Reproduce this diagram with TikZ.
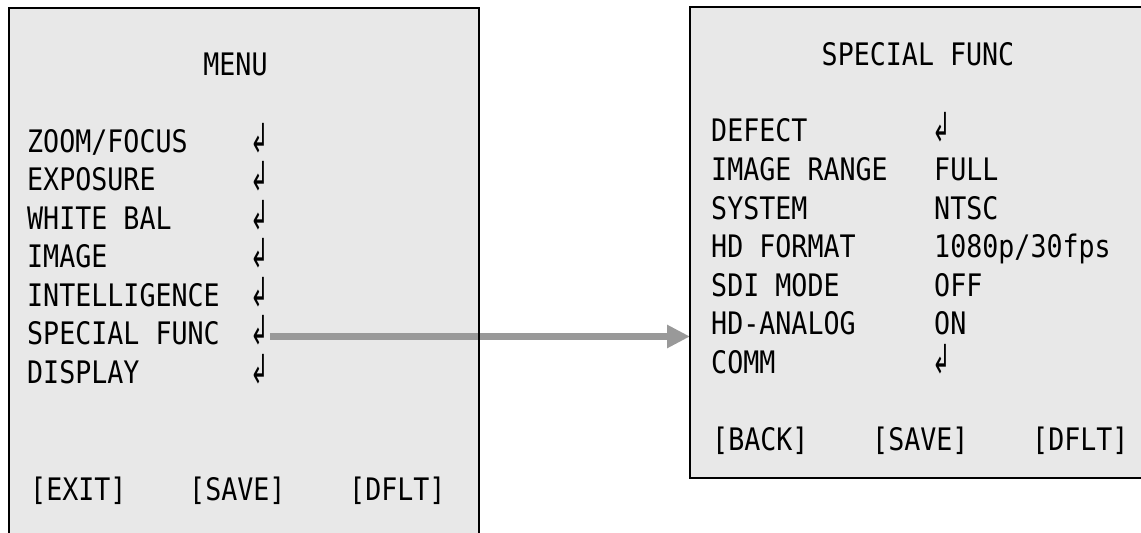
\documentclass[tikz,border=0pt]{standalone}
\usepackage{fontspec}
\setmonofont[FakeStretch=0.86]{DejaVu Sans Mono}
\newfontfamily\symfont[FakeStretch=0.55]{DejaVu Sans}
\usetikzlibrary{arrows.meta}
\definecolor{osdbg}{HTML}{E8E8E8}
\definecolor{osdgray}{HTML}{999999}

\begin{document}
\begin{tikzpicture}[x=1pt, y=-1pt,
    osdtext/.style={anchor=base west, inner sep=0pt, font=\ttfamily\fontsize{31}{31}\selectfont},
    osdtitle/.style={anchor=base, inner sep=0pt, font=\ttfamily\fontsize{31}{31}\selectfont},
    retkey/.style={anchor=base west, inner sep=0pt, font=\symfont\fontsize{40}{40}\selectfont}]
        \useasboundingbox (0,0) rectangle (1141,533);
        \clip (0,0) rectangle (1141,533);

        % Sfondi
        \fill[osdbg] (9,8) rectangle (479,545);
        \fill[osdbg] (690,7) rectangle (1150,478);
        \coordinate (funcedge) at (690,7);

        % Menu principale
        \node[osdtitle] (menutitle) at (235.5,75) {MENU};
        \node[osdtext] (zoom) at (27,152) {ZOOM/FOCUS};
        \node[osdtext] (expo) at (27,190.5) {EXPOSURE};
        \node[osdtext] (white) at (27,229) {WHITE BAL};
        \node[osdtext] (image) at (27,267.5) {IMAGE};
        \node[osdtext] (intel) at (27,306) {INTELLIGENCE};
        \node[osdtext] (special) at (27,344.5) {SPECIAL FUNC};
        \node[osdtext] (display) at (27,383) {DISPLAY};
        \node[retkey] (ret1) at (250,152) {↲};
        \node[retkey] (ret2) at (250,190.5) {↲};
        \node[retkey] (ret3) at (250,229) {↲};
        \node[retkey] (ret4) at (250,267.5) {↲};
        \node[retkey] (ret5) at (250,306) {↲};
        \node[retkey] (ret6) at (250,344.5) {↲};
        \node[retkey] (ret7) at (250,383) {↲};
        \node[osdtext] (exit) at (30,500) {[EXIT]};
        \node[osdtext] (save) at (189,500) {[SAVE]};
        \node[osdtext] (dflt) at (349,500) {[DFLT]};

        % Freccia
        \draw[osdgray, line width=7.5pt, -{Triangle[length=23pt, width=22pt]}]
            ([xshift=1pt, yshift=8pt]ret6.base east) -- ([yshift=8pt]ret6.base east -| funcedge);

        % Sottomenu
        \node[osdtitle] (functitle) at (918,65) {SPECIAL FUNC};
        \node[osdtext] (defect) at (711,141) {DEFECT};
        \node[osdtext] (range) at (711,180) {IMAGE RANGE};
        \node[osdtext] (system) at (711,219) {SYSTEM};
        \node[osdtext] (format) at (711,257) {HD FORMAT};
        \node[osdtext] (sdi) at (711,296) {SDI MODE};
        \node[osdtext] (analog) at (711,334) {HD-ANALOG};
        \node[osdtext] (comm) at (711,373) {COMM};
        \node[retkey] (defectret) at (932,141) {↲};
        \node[osdtext] (rangeval) at (934,180) {FULL};
        \node[osdtext] (systemval) at (934,219) {NTSC};
        \node[osdtext] (formatval) at (934,257) {1080p/30fps};
        \node[osdtext] (sdival) at (934,296) {OFF};
        \node[osdtext] (analogval) at (934,334) {ON};
        \node[retkey] (commret) at (932,373) {↲};
        \node[osdtext] (back) at (712,450) {[BACK]};
        \node[osdtext] (save2) at (872,450) {[SAVE]};
        \node[osdtext] (dflt2) at (1032,450) {[DFLT]};

        % Bordi
        \draw[line width=2.5pt] (9,545) -- (9,8) -- (479,8) -- (479,545);
        \draw[line width=2.5pt] (1150,7) -- (690,7) -- (690,478) -- (1150,478);
\end{tikzpicture}
\end{document}
